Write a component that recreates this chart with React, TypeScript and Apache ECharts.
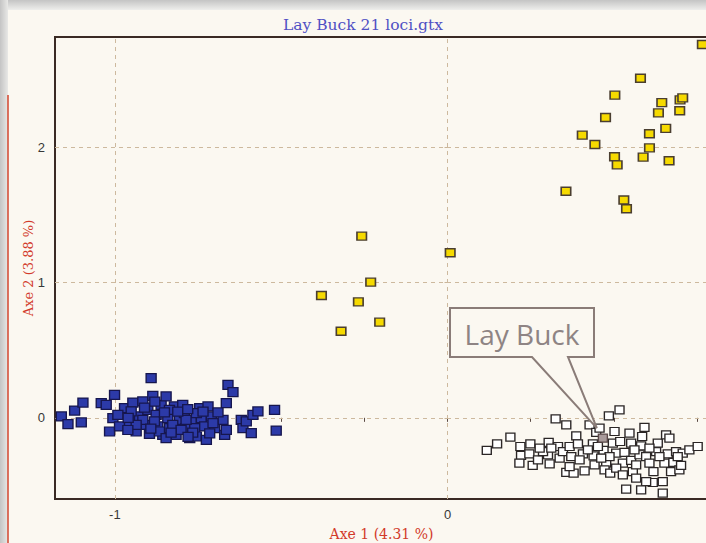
import { useEffect, useRef } from "react";
import * as echarts from "echarts";

const chartTitle = "Lay Buck 21 loci.gtx";
const xAxisName = "Axe 1 (4.31 %)";
const yAxisName = "Axe 2 (3.88 %)";
const calloutText = "Lay Buck";

const xTickValues = [-1, -0.75, -0.5, -0.25, 0, 0.25, 0.5, 0.75];
const xLabelValues = [-1, 0];
const yTickValues = [0, 1, 2];
const yLabelValues = [0, 1, 2];
const gridXValues = [-1, 0];
const gridYValues = [0, 1, 2];

const layBuckPoint = [[0.467, -0.15]];

const yellowPoints = [
  [0.766, 2.76], [0.58, 2.51], [0.503, 2.385], [0.644, 2.33], [0.699, 2.35],
  [0.707, 2.365], [0.634, 2.254], [0.698, 2.27], [0.475, 2.22], [0.656, 2.14],
  [0.405, 2.09], [0.607, 2.1], [0.443, 2.02], [0.607, 1.995], [0.502, 1.93],
  [0.588, 1.927], [0.51, 1.87], [0.666, 1.9], [0.356, 1.675], [0.53, 1.61],
  [0.538, 1.545],
  [-0.258, 1.343], [0.008, 1.22], [-0.231, 1.003], [-0.379, 0.904],
  [-0.268, 0.857], [-0.204, 0.707], [-0.32, 0.64],
];

const bluePoints = [
  [-1.161, 0.01], [-1.141, -0.047], [-1.121, 0.054], [-1.096, 0.113], [-1.101, -0.034],
  [-1.041, 0.108], [-1.026, 0.096], [-1.001, 0.17], [-1.006, -0.002], [-1.016, -0.101],
  [-0.971, 0.071], [-0.986, -0.064], [-0.956, -0.027], [-0.946, 0.113], [-0.936, -0.101],
  [-0.926, 0.01], [-0.916, 0.121], [-0.906, -0.052], [-0.901, 0.059], [-0.896, -0.118],
  [-0.891, 0.293], [-0.886, 0.163], [-0.876, 0.022], [-0.871, -0.064], [-0.861, 0.096],
  [-0.856, -0.126], [-0.846, 0.158], [-0.841, -0.002], [-0.836, -0.076], [-0.821, 0.084],
  [-0.816, -0.126], [-0.806, -0.015], [-0.796, 0.096], [-0.791, 0.034], [-0.786, -0.076],
  [-0.775, -0.15], [-0.77, -0.015], [-0.76, -0.076], [-0.755, -0.138], [-0.745, 0.071],
  [-0.74, -0.002], [-0.73, -0.064], [-0.725, -0.163], [-0.72, 0.084], [-0.71, 0.01],
  [-0.7, -0.076], [-0.675, -0.015], [-0.67, -0.126], [-0.665, -0.089], [-0.665, 0.108],
  [-0.66, 0.244], [-0.645, 0.19], [-0.62, -0.015], [-0.615, -0.076], [-0.605, -0.027],
  [-0.59, -0.113], [-0.585, 0.022], [-0.57, 0.047], [-0.52, 0.059], [-0.515, -0.094],
  [-0.951, 0.047], [-0.916, -0.015], [-0.881, -0.027], [-0.826, -0.052], [-0.801, -0.089],
  [-0.755, 0.034], [-0.705, -0.039], [-0.866, -0.101], [-0.846, -0.15], [-0.936, -0.052],
  [-0.991, 0.022], [-0.836, 0.059], [-0.786, -0.015],
  [-0.961, -0.09], [-0.911, 0.075], [-0.892, -0.08], [-0.851, 0.04], [-0.831, -0.11],
  [-0.811, 0.045], [-0.781, 0.065], [-0.766, -0.11], [-0.735, 0.045], [-0.715, -0.115],
  [-0.69, 0.04], [-0.88, 0.12], [-0.78, -0.14], [-0.96, 0.0],
];

const whitePoints = [
  [0.118, -0.241], [0.149, -0.192], [0.189, -0.143], [0.219, -0.212], [0.249, -0.192],
  [0.221, -0.278], [0.246, -0.266], [0.216, -0.335], [0.256, -0.352], [0.272, -0.31],
  [0.304, -0.182], [0.302, -0.273], [0.307, -0.34], [0.325, -0.007], [0.357, -0.052],
  [0.332, -0.212], [0.337, -0.298], [0.347, -0.249], [0.367, -0.212], [0.372, -0.286],
  [0.357, -0.404], [0.379, -0.409], [0.387, -0.133], [0.392, -0.192], [0.407, -0.266],
  [0.412, -0.392], [0.427, -0.052], [0.437, -0.192], [0.439, -0.281], [0.442, -0.347],
  [0.447, -0.108], [0.457, -0.076], [0.469, -0.241], [0.477, -0.335], [0.472, -0.384],
  [0.485, 0.015], [0.489, -0.409], [0.497, -0.187], [0.502, -0.101], [0.507, -0.261],
  [0.517, 0.059], [0.519, -0.175], [0.527, -0.335], [0.532, -0.256], [0.537, -0.527],
  [0.547, -0.113], [0.552, -0.187], [0.552, -0.315], [0.557, -0.397], [0.567, -0.446],
  [0.577, -0.273], [0.582, -0.207], [0.585, -0.138], [0.592, -0.071], [0.597, -0.286],
  [0.607, -0.335], [0.617, -0.478], [0.619, -0.397], [0.627, -0.249], [0.632, -0.187],
  [0.647, -0.557], [0.652, -0.335], [0.657, -0.126], [0.667, -0.15], [0.662, -0.266],
  [0.672, -0.397], [0.679, -0.33], [0.687, -0.249], [0.697, -0.384], [0.702, -0.352],
  [0.707, -0.261], [0.727, -0.237], [0.752, -0.212], [0.647, -0.471], [0.597, -0.471],
  [0.582, -0.532], [0.507, -0.372], [0.527, -0.421], [0.562, -0.237], [0.452, -0.212],
  [0.422, -0.237], [0.397, -0.31], [0.367, -0.36], [0.287, -0.249], [0.277, -0.224],
  [0.312, -0.224], [0.607, -0.224], [0.637, -0.286], [0.692, -0.286], [0.567, -0.347],
  [0.487, -0.286], [0.462, -0.298],
];

const CREAM = "#fbf8f1";

export default function App() {
  const ref = useRef<HTMLDivElement>(null);

  useEffect(() => {
    if (!ref.current) return;
    const chart = echarts.init(ref.current, null, { renderer: "svg" });
    chart.setOption({
      animation: false,
      backgroundColor: CREAM,
      title: {
        text: chartTitle,
        left: 358,
        top: 12,
        textAlign: "center",
        textStyle: {
          fontFamily: "DejaVu Serif",
          fontSize: 15.5,
          fontWeight: "normal",
          color: "#5050c4",
        },
      },
      grid: {
        left: 55,
        top: 37,
        right: 12,
        bottom: 44,
        show: true,
        backgroundColor: CREAM,
        borderColor: "#3a2a24",
        borderWidth: 2,
        containLabel: false,
        outerBoundsMode: "none",
      },
      xAxis: {
        type: "value",
        min: -1.18,
        max: 0.783,
        name: xAxisName,
        nameLocation: "middle",
        nameGap: 28,
        nameMoveOverlap: false,
        nameTextStyle: { fontFamily: "DejaVu Serif", fontSize: 14, color: "#d23a2a" },
        axisLine: { show: false },
        axisTick: {
          show: true,
          customValues: xTickValues,
          length: 4,
          lineStyle: { color: "#5a4a44", width: 1 },
        },
        axisLabel: {
          customValues: xLabelValues,
          margin: 9,
          fontFamily: "Liberation Sans",
          fontSize: 13,
          color: "#383838",
        },
        splitLine: { show: false },
      },
      yAxis: {
        type: "value",
        min: -0.6,
        max: 2.815,
        name: yAxisName,
        nameLocation: "middle",
        nameGap: 20,
        nameMoveOverlap: false,
        nameTextStyle: { fontFamily: "DejaVu Serif", fontSize: 13, color: "#d23a2a" },
        axisLine: { show: false },
        axisTick: {
          show: true,
          customValues: yTickValues,
          length: 6,
          lineStyle: { color: "#c9b59a", width: 1, type: [3, 3] },
        },
        axisLabel: {
          customValues: yLabelValues,
          margin: 10,
          fontFamily: "Liberation Sans",
          fontSize: 13,
          color: "#383838",
        },
        splitLine: { show: false },
      },
      series: [
        {
          type: "scatter",
          data: [],
          z: 1,
          markLine: {
            silent: true,
            z: 1,
            symbol: ["none", "none"],
            label: { show: false },
            lineStyle: { type: [4, 4], color: "#cdb99e", width: 1 },
            emphasis: { disabled: true },
            data: [
              ...gridXValues.map((v) => ({ xAxis: v })),
              ...gridYValues.map((v) => ({ yAxis: v })),
            ],
          },
        },
        {
          name: "white",
          type: "scatter",
          symbol: "rect",
          symbolSize: [9, 8],
          z: 3,
          data: whitePoints,
          itemStyle: { color: "#ffffff", borderColor: "#2b2626", borderWidth: 1.3, opacity: 1 },
        },
        {
          name: "yellow",
          type: "scatter",
          symbol: "rect",
          symbolSize: [9.5, 8],
          z: 3,
          data: yellowPoints,
          itemStyle: { color: "#f6da00", borderColor: "#4a3e30", borderWidth: 1.5, opacity: 1 },
        },
        {
          name: "blue",
          type: "scatter",
          symbol: "rect",
          symbolSize: [10, 9],
          z: 3,
          data: bluePoints,
          itemStyle: { color: "#2c3aa8", borderColor: "#16164e", borderWidth: 1.3, opacity: 1 },
        },
        {
          name: "laybuck",
          type: "scatter",
          symbol: "rect",
          symbolSize: [9, 8],
          z: 4,
          data: layBuckPoint,
          itemStyle: { color: "#a89a9a", borderColor: "#5a4848", borderWidth: 1.3, opacity: 1 },
        },
      ],
    });

    const tip = chart.convertToPixel({ gridIndex: 0 }, layBuckPoint[0]) as number[];
    const tx = tip[0] - 6;
    const ty = tip[1] - 10;
    const bx0 = 450, bx1 = 594, by0 = 308, by1 = 357;

    chart.setOption({
      graphic: [
        {
          type: "rect",
          z: 0,
          silent: true,
          shape: { x: 0, y: 0, width: 720, height: 10 },
          style: {
            fill: new echarts.graphic.LinearGradient(0, 0, 0, 1, [
              { offset: 0, color: "#c4c4c4" },
              { offset: 1, color: "#eeeeec" },
            ]),
          },
        },
        {
          type: "rect",
          z: 0,
          silent: true,
          shape: { x: 0, y: 0, width: 8, height: 543 },
          style: {
            fill: new echarts.graphic.LinearGradient(0, 0, 1, 0, [
              { offset: 0, color: "#c4c4c4" },
              { offset: 1, color: "#e8e8e6" },
            ]),
          },
        },
        {
          type: "line",
          z: 0,
          silent: true,
          shape: { x1: 8, y1: 95, x2: 8, y2: 543 },
          style: { stroke: "#d2452e", lineWidth: 1.5 },
        },
        {
          type: "polygon",
          z: 100,
          silent: true,
          shape: {
            points: [
              [bx0, by0], [bx1, by0], [bx1, by1], [568, by1],
              [tx, ty], [532, by1], [bx0, by1],
            ],
          },
          style: { fill: CREAM, stroke: "#8a7c78", lineWidth: 2 },
        },
        {
          type: "text",
          z: 101,
          silent: true,
          x: (bx0 + bx1) / 2,
          y: (by0 + by1) / 2 + 1,
          style: {
            text: calloutText,
            fontFamily: "Open Sans",
            fontSize: 28,
            fill: "#8e8484",
            align: "center",
            verticalAlign: "middle",
          },
        },
      ],
    });

    return () => chart.dispose();
  }, []);

  return (
    <div
      style={{
        position: "fixed",
        left: 0,
        top: 0,
        width: 706,
        height: 543,
        overflow: "hidden",
        background: CREAM,
      }}
    >
      <div ref={ref} style={{ width: 720, height: 543 }} />
    </div>
  );
}
